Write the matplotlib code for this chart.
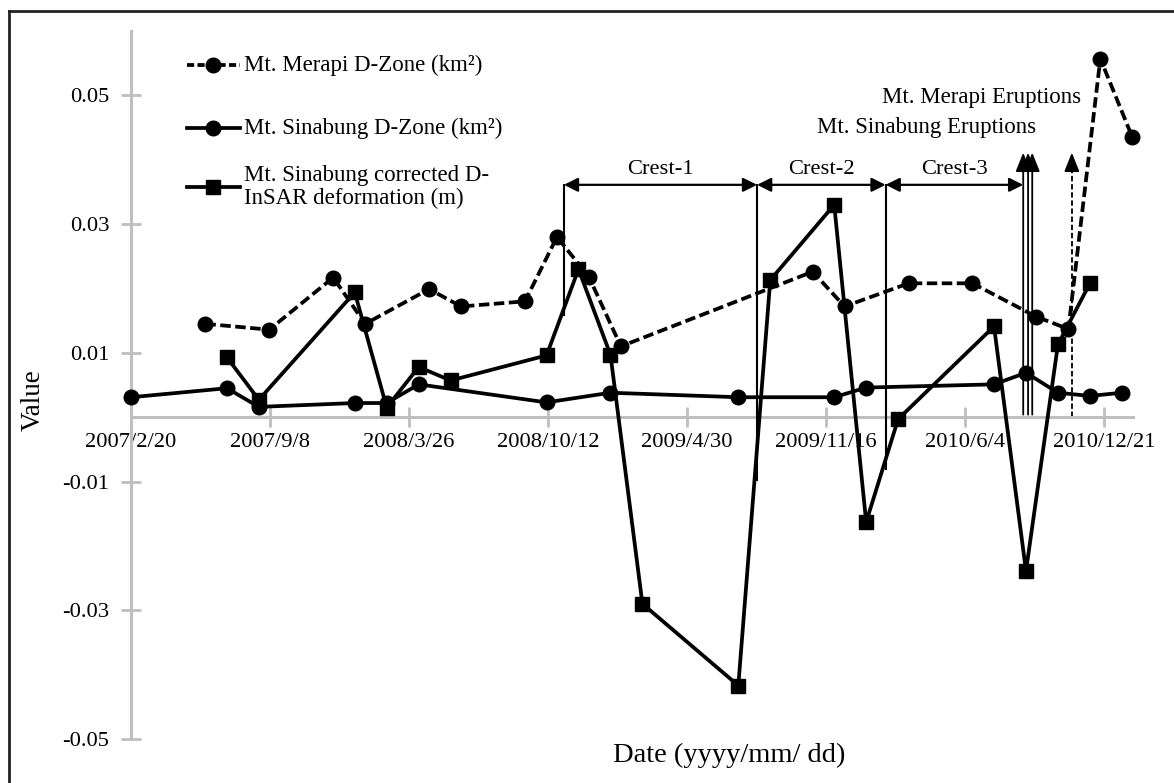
import matplotlib
matplotlib.use("Agg")
import matplotlib.pyplot as plt
import pandas as pd
from matplotlib.lines import Line2D

plt.rcParams['font.family'] = ['Liberation Serif', 'DejaVu Serif']

# ---------------- data ----------------
merapi_dates = ['2007/6/7', '2007/9/7', '2007/12/8', '2008/1/23', '2008/4/24', '2008/6/9',
                '2008/9/9', '2008/10/25', '2008/12/10', '2009/1/25', '2009/10/28', '2009/12/13',
                '2010/3/15', '2010/6/15', '2010/9/15', '2010/10/31', '2010/12/16', '2011/1/31']
merapi_zone = [0.0145, 0.0136, 0.0217, 0.0145, 0.0199, 0.0172,
               0.0180, 0.0280, 0.0218, 0.0110, 0.0226, 0.0172,
               0.0208, 0.0208, 0.0156, 0.0137, 0.0557, 0.0435]

sinabung_dates = ['2007/2/20', '2007/7/8', '2007/8/23', '2008/1/8', '2008/2/23', '2008/4/9',
                  '2008/10/10', '2009/1/10', '2009/7/13', '2009/11/28', '2010/1/13', '2010/7/16',
                  '2010/8/31', '2010/10/16', '2010/12/1', '2011/1/16']
sinabung_zone = [0.0031, 0.0045, 0.0016, 0.0022, 0.0022, 0.0051,
                 0.0023, 0.0038, 0.0031, 0.0031, 0.0046, 0.0051,
                 0.0069, 0.0038, 0.0033, 0.0038]

deform_dates = ['2007/7/8', '2007/8/23', '2008/1/8', '2008/2/23', '2008/4/9', '2008/5/25',
                '2008/10/10', '2008/11/25', '2009/1/10', '2009/2/25', '2009/7/13', '2009/8/28',
                '2009/11/28', '2010/1/13', '2010/2/28', '2010/7/16', '2010/8/31', '2010/10/16',
                '2010/12/1']
deform_m = [0.0093, 0.0027, 0.0194, 0.0015, 0.0078, 0.0057,
            0.0096, 0.0230, 0.0097, -0.0290, -0.0417, 0.0213,
            0.0330, -0.0163, -0.0003, 0.0141, -0.0239, 0.0113,
            0.0208]

xtick_labels = ['2007/2/20', '2007/9/8', '2008/3/26', '2008/10/12',
                '2009/4/30', '2009/11/16', '2010/6/4', '2010/12/21']
x_end = '2011/2/1'
yticks = [0.05, 0.03, 0.01, -0.01, -0.03, -0.05]
ytick_labels = ['0.05', '0.03', '0.01', '-0.01', '-0.03', '-0.05']

crest_names = ['Crest-1', 'Crest-2', 'Crest-3']
crest_bounds = ['2008/11/4', '2009/8/9', '2010/2/10', '2010/8/27']
crest_line_bottoms = [0.0159, -0.0097, -0.0081]
crest_level = 0.0361

sinabung_eruptions = ['2010/8/27', '2010/9/3', '2010/9/9']
merapi_eruption = '2010/11/5'
eruption_tip = 0.0411


def to_dt(values):
    return pd.to_datetime(values, format='%Y/%m/%d')


W, H = 1174, 783
fig = plt.figure(figsize=(W / 100, H / 100), dpi=100)
ax = fig.add_axes([131 / W, 1 - 739 / H, (1133 - 131) / W, (739 - 31) / H])

GRAY = '#BFBFBF'
LW = 2.7
CIRCLE = 10.5
SQUARE = 9.5
merapi_ls = (0, (2.8, 1.2))
FS = 16.2

ax.plot(to_dt(sinabung_dates), sinabung_zone, color='black', lw=LW, marker='o', ms=CIRCLE,
        clip_on=False, zorder=4)
ax.plot(to_dt(deform_dates), deform_m, color='black', lw=LW, marker='s', ms=SQUARE,
        clip_on=False, zorder=5)
ax.plot(to_dt(merapi_dates), merapi_zone, color='black', lw=LW, ls=merapi_ls, marker='o',
        ms=CIRCLE, clip_on=False, zorder=6)

# axes
ax.set_xlim(to_dt(['2007/2/20'])[0], to_dt([x_end])[0])
ax.set_ylim(-0.05, 0.06)
ax.set_xticks(to_dt(xtick_labels), labels=xtick_labels)
ax.set_yticks(yticks, labels=ytick_labels)
for side in ['top', 'right']:
    ax.spines[side].set_visible(False)
ax.spines['bottom'].set_position(('data', 0))
for side in ['left', 'bottom']:
    ax.spines[side].set_color(GRAY)
    ax.spines[side].set_linewidth(2.2)
ax.tick_params(axis='both', direction='inout', length=14, width=2, color=GRAY,
               labelsize=FS, labelcolor='black')
ax.tick_params(axis='x', pad=4.5)
ax.tick_params(axis='y', pad=8.5)
ax.patch.set_visible(False)

# crest periods
bounds = to_dt(crest_bounds)
for i, name in enumerate(crest_names):
    a, b = bounds[i], bounds[i + 1]
    ax.annotate('', xy=(b, crest_level), xytext=(a, crest_level),
                arrowprops=dict(arrowstyle='<|-|>,head_length=0.4,head_width=0.2',
                                color='black', lw=1.6, mutation_scale=21,
                                shrinkA=0, shrinkB=0))
    mid = a + (b - a) / 2
    ax.text(mid, crest_level + 0.0009, name, ha='center', va='bottom', fontsize=FS)
for d, bottom in zip(bounds[:3], crest_line_bottoms):
    ax.plot([d, d], [crest_level, bottom], color='black', lw=1.5, zorder=3)

# eruption markers
for d in to_dt(sinabung_eruptions):
    ax.annotate('', xy=(d, eruption_tip), xytext=(d, 0.0004),
                arrowprops=dict(arrowstyle='-|>,head_length=0.55,head_width=0.22',
                                color='black', lw=1.3, mutation_scale=21,
                                shrinkA=0, shrinkB=0))
me = to_dt([merapi_eruption])[0]
ax.plot([me, me], [0, eruption_tip - 0.002], color='black', lw=1.3, ls=(0, (3, 1.5)))
ax.annotate('', xy=(me, eruption_tip), xytext=(me, eruption_tip - 0.0025),
            arrowprops=dict(arrowstyle='-|>,head_length=0.55,head_width=0.22',
                            color='black', lw=1.3, mutation_scale=21,
                            shrinkA=0, shrinkB=0))

fig.text(1081 / W, 1 - 97 / H, 'Mt. Merapi Eruptions', ha='right', va='center', fontsize=16.5)
fig.text(1036 / W, 1 - 128 / H, 'Mt. Sinabung Eruptions', ha='right', va='center', fontsize=16.5)

# legend keys
legend_items = [
    (65, dict(ls=(0, (1.9, 0.9)), marker='o', ms=CIRCLE), 'Mt. Merapi D-Zone (km²)'),
    (128, dict(ls='-', marker='o', ms=CIRCLE), 'Mt. Sinabung D-Zone (km²)'),
    (187, dict(ls='-', marker='s', ms=SQUARE), 'Mt. Sinabung corrected D-\nInSAR deformation (m)'),
]
for ypx, style, label in legend_items:
    yf = 1 - ypx / H
    fig.add_artist(Line2D([187 / W, 240 / W], [yf, yf], transform=fig.transFigure,
                          color='black', lw=LW, ls=style['ls']))
    fig.add_artist(Line2D([213 / W], [yf], transform=fig.transFigure, color='black',
                          marker=style['marker'], ms=style['ms'], ls='none'))
    fig.text(244 / W, yf, label, ha='left', va='center', fontsize=16.5, linespacing=1.15)

# axis titles
fig.text(729 / W, 1 - 755 / H, 'Date (yyyy/mm/ dd)', ha='center', va='center', fontsize=20.5)
fig.text(33 / W, 1 - 400 / H, 'Value', ha='center', va='center', rotation=90, fontsize=19.5)

# outer frame (top and left edges)
fig.add_artist(Line2D([9 / W, 1.0], [1 - 11 / H, 1 - 11 / H], transform=fig.transFigure,
                      color='#222222', lw=2))
fig.add_artist(Line2D([9 / W, 9 / W], [0, 1 - 11 / H], transform=fig.transFigure,
                      color='#222222', lw=2))

fig.savefig('out.png', dpi=100)
